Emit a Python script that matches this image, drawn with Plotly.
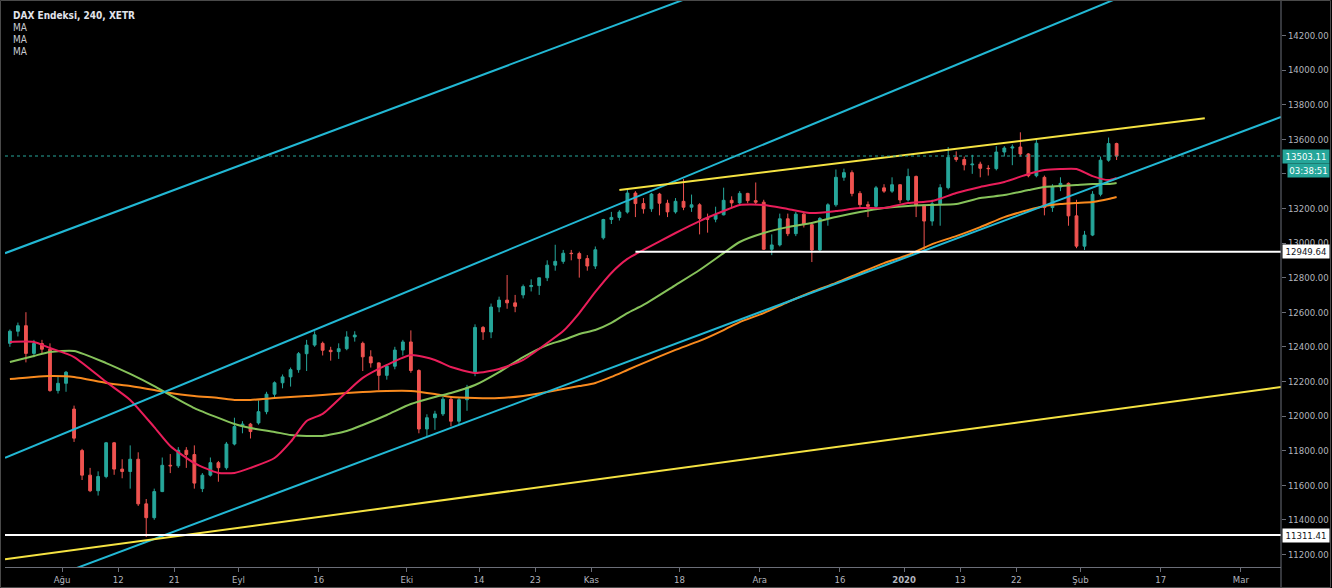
import pandas as pd
import plotly.graph_objects as go

# ---------------- calendar (XETRA trading days) ----------------
holidays = ["2019-12-24", "2019-12-25", "2019-12-26", "2019-12-31", "2020-01-01"]
trading_days = [d.strftime("%Y-%m-%d") for d in pd.bdate_range("2019-07-23", "2020-03-20")
                if d.strftime("%Y-%m-%d") not in holidays]
origin = trading_days.index("2019-08-01")


def pos(date):
    return trading_days.index(date) - origin


# ---------------- candles (one per trading day, from 2019-07-23) ----------------
opens = [
    12420, 12490, 12522, 12362,
    12419, 12386, 12147, 12189, 12040,
    11800, 11658, 11568, 11650, 11845,
    11693, 11679, 11750, 11492, 11412,
    11563, 11715, 11712, 11802, 11777,
    11580, 11658, 11730, 11701, 11838,
    11939, 11953, 11960, 12025, 12126,
    12192, 12226, 12268, 12360, 12410,
    12420, 12380, 12372, 12389, 12457,
    12420, 12342, 12307, 12235, 12288,
    12381, 12428, 12263, 11925, 11990,
    12012, 12097, 11970, 12094, 12250,
    12512, 12486, 12630, 12670, 12654,
    12700, 12748, 12754, 12799, 12872,
    12894, 12941, 12939, 12910, 12867,
    13030, 13136, 13148, 13179, 13289,
    13228, 13198, 13283, 13230, 13180,
    13241, 13207, 13221, 13142, 13138,
    13163, 13247, 13232, 13287, 13245,
    13236, 12964, 12989, 13140, 13054,
    13167, 13106, 12960, 13142, 13221,
    13380, 13407, 13287, 13222, 13212,
    13319, 13300,
    13337, 13249, 13385,
    13219, 13127, 13227, 13320, 13495,
    13483, 13452, 13456, 13432, 13430,
    13526, 13549, 13555, 13515, 13389,
    13380, 13205, 13324, 13345, 13157,
    12982, 13046, 13282, 13479, 13575,
]
highs = [
    12500, 12540, 12600, 12440,
    12440, 12420, 12230, 12260, 12060,
    11810, 11700, 11680, 11850, 11850,
    11750, 11830, 11790, 11520, 11580,
    11760, 11780, 11820, 11820, 11830,
    11670, 11760, 11740, 11850, 11990,
    11970, 11960, 12090, 12140, 12200,
    12240, 12280, 12370, 12440, 12490,
    12430, 12400, 12420, 12490, 12490,
    12430, 12380, 12310, 12300, 12400,
    12440, 12495, 12270, 12010, 12030,
    12110, 12110, 12110, 12180, 12530,
    12520, 12650, 12690, 12815, 12700,
    12760, 12790, 12800, 12900, 12990,
    12960, 12960, 12950, 12930, 12980,
    13140, 13180, 13190, 13310, 13300,
    13260, 13290, 13290, 13250, 13260,
    13370, 13280, 13230, 13170, 13210,
    13320, 13270, 13300, 13290, 13350,
    13250, 13050, 13170, 13170, 13180,
    13180, 13120, 13150, 13230, 13425,
    13430, 13420, 13300, 13240, 13330,
    13340, 13380,
    13340, 13430, 13390,
    13220, 13250, 13340, 13555, 13530,
    13500, 13510, 13470, 13450, 13560,
    13560, 13570, 13640, 13520, 13600,
    13390, 13340, 13380, 13350, 13250,
    13070, 13300, 13500, 13610, 13580,
]
lows = [
    12400, 12460, 12310, 12340,
    12360, 12140, 12130, 12140, 11850,
    11630, 11560, 11540, 11640, 11660,
    11640, 11580, 11480, 11300, 11400,
    11560, 11670, 11700, 11700, 11580,
    11560, 11650, 11620, 11690, 11830,
    11900, 11870, 11950, 12010, 12100,
    12160, 12170, 12250, 12260, 12400,
    12350, 12320, 12330, 12380, 12430,
    12260, 12280, 12150, 12210, 12270,
    12350, 12250, 11900, 11880, 11920,
    12000, 11940, 11950, 12030, 12230,
    12440, 12450, 12600, 12620, 12600,
    12680, 12720, 12700, 12780, 12840,
    12880, 12900, 12800, 12840, 12850,
    13020, 13110, 13130, 13170, 13150,
    13170, 13180, 13160, 13150, 13170,
    13190, 13180, 13050, 13060, 13120,
    13160, 13200, 13220, 13230, 13220,
    12960, 12930, 12980, 13040, 13040,
    13090, 12890, 12950, 13100, 13210,
    13360, 13270, 13200, 13150, 13200,
    13290, 13290,
    13230, 13240, 13150,
    12950, 13100, 13100, 13310, 13470,
    13420, 13400, 13380, 13390, 13420,
    13500, 13450, 13500, 13380, 13380,
    13160, 13180, 13300, 13100, 12970,
    12960, 13040, 13270, 13470, 13480,
]
closes = [
    12490, 12522, 12362, 12419,
    12386, 12147, 12189, 12253, 11872,
    11658, 11568, 11650, 11845, 11693,
    11679, 11750, 11492, 11412, 11563,
    11715, 11712, 11802, 11777, 11612,
    11658, 11730, 11701, 11838, 11939,
    11953, 11910, 12025, 12126, 12192,
    12226, 12268, 12360, 12410, 12469,
    12380, 12372, 12389, 12457, 12468,
    12342, 12307, 12235, 12288, 12381,
    12428, 12263, 11925, 11990, 12012,
    12097, 11970, 12094, 12164, 12512,
    12486, 12630, 12670, 12654, 12634,
    12748, 12754, 12799, 12872, 12894,
    12941, 12939, 12910, 12867, 12961,
    13136, 13148, 13179, 13289, 13228,
    13198, 13283, 13230, 13180, 13241,
    13207, 13221, 13142, 13138, 13163,
    13247, 13232, 13287, 13245, 13236,
    12964, 12989, 13140, 13054, 13167,
    13106, 12960, 13142, 13221, 13380,
    13407, 13287, 13222, 13212, 13319,
    13300, 13337,
    13249, 13385, 13219,
    13127, 13227, 13320, 13495, 13483,
    13452, 13456, 13432, 13430, 13526,
    13549, 13555, 13515, 13389, 13577,
    13205, 13324, 13345, 13157, 12982,
    13046, 13282, 13479, 13575, 13503.11,
]
candle_dates = trading_days[:len(closes)]

# ---------------- moving averages ----------------
ma_dates = [
    "2019-07-23", "2019-07-26", "2019-07-30", "2019-08-02", "2019-08-08", "2019-08-13",
    "2019-08-16", "2019-08-20", "2019-08-23", "2019-08-28", "2019-08-30", "2019-09-03",
    "2019-09-06", "2019-09-10", "2019-09-12", "2019-09-16", "2019-09-19", "2019-09-23",
    "2019-09-26", "2019-10-01", "2019-10-04", "2019-10-08", "2019-10-11", "2019-10-16",
    "2019-10-21", "2019-10-24", "2019-10-28", "2019-10-30", "2019-11-01", "2019-11-05",
    "2019-11-07", "2019-11-11", "2019-11-15", "2019-11-20", "2019-11-25", "2019-11-27",
    "2019-12-02", "2019-12-05", "2019-12-10", "2019-12-13", "2019-12-18", "2019-12-23",
    "2020-01-02", "2020-01-07", "2020-01-10", "2020-01-15", "2020-01-20", "2020-01-23",
    "2020-01-27", "2020-01-29", "2020-01-31", "2020-02-04", "2020-02-06", "2020-02-07",
]
ma_fast = [
    12428, 12428, 12393, 12341, 12197, 12093, 11936, 11827, 11728, 11671, 11671, 11700,
    11757, 11850, 11971, 12012, 12139, 12220, 12295, 12353, 12324, 12283, 12249, 12272,
    12324, 12422, 12491, 12595, 12717, 12827, 12908, 12960, 13058, 13127, 13185, 13220,
    13220, 13197, 13173, 13185, 13202, 13202, 13231, 13243, 13289, 13324, 13353, 13399,
    13422, 13428, 13428, 13387, 13364, 13376,
]
ma_mid = [
    12312, 12347, 12370, 12376, 12306, 12243, 12173, 12121, 12046, 11989, 11954, 11930,
    11908, 11890, 11885, 11885, 11913, 11948, 12006, 12069, 12110, 12133, 12179, 12254,
    12341, 12410, 12439, 12474, 12497, 12538, 12595, 12642, 12757, 12844, 12942, 13006,
    13058, 13092, 13116, 13150, 13179, 13202, 13214, 13220, 13225, 13260, 13277, 13306,
    13324, 13329, 13335, 13341, 13341, 13347,
]
ma_slow = [
    12214, 12226, 12231, 12226, 12191, 12173, 12150, 12133, 12116, 12104, 12093, 12093,
    12104, 12110, 12116, 12121, 12133, 12139, 12145, 12145, 12127, 12110, 12104, 12104,
    12116, 12139, 12156, 12173, 12191, 12226, 12266, 12306, 12382, 12434, 12497, 12543,
    12595, 12659, 12717, 12769, 12827, 12884, 12931, 12994, 13040, 13092, 13150, 13191,
    13214, 13225, 13231, 13237, 13254, 13266,
]

# ---------------- drawings: (date, price) anchor pairs ----------------
channel_top = [("2019-08-01", 13073), ("2019-11-01", 14216)]
channel_mid = [("2019-08-01", 11904), ("2019-11-01", 13168)]
channel_low = [("2019-08-01", 11098), ("2020-01-31", 13286)]
yellow_long = [("2019-08-01", 11219), ("2020-01-31", 12008)]
yellow_top = [("2019-11-06", 13306), ("2020-02-24", 13721)]
support_hi = ("2019-11-08", 12949.64)
support_lo = 11311.41
last_price = 13503.11
countdown = "03:38:51"

tick_dates = ["2019-08-01", "2019-08-12", "2019-08-21", "2019-09-02", "2019-09-16", "2019-10-01",
              "2019-10-14", "2019-10-23", "2019-11-01", "2019-11-18", "2019-12-02", "2019-12-16",
              "2020-01-02", "2020-01-13", "2020-01-22", "2020-02-03", "2020-02-17", "2020-03-02"]
tick_text = ["Ağu", "12", "21", "Eyl", "16", "Eki", "14", "23", "Kas", "18", "Ara", "16",
             "<b>2020</b>", "13", "22", "Şub", "17", "Mar"]

# ---------------- styling ----------------
TEAL = "#26a69a"
RED = "#ef5350"
CYAN = "#22b8d4"
YELLOW = "#f5e342"
PINK = "#e91e5a"
GREEN = "#86c25a"
ORANGE = "#f98a1e"
AXIS = "#6b6e78"
TXT = "#b2b5be"
FONT = "DejaVu Sans Condensed, Liberation Sans Narrow, Liberation Sans, sans-serif"

X0, X1 = -7.61, 151.5
Y0, Y1 = 11127, 14405

fig = go.Figure()

cx = [pos(d) for d in candle_dates]
fig.add_trace(go.Candlestick(
    x=cx, open=opens, high=highs, low=lows, close=closes,
    increasing=dict(line=dict(color=TEAL, width=1), fillcolor=TEAL),
    decreasing=dict(line=dict(color=RED, width=1), fillcolor=RED),
    whiskerwidth=0, showlegend=False, hoverinfo="skip"))

mx = [pos(d) for d in ma_dates]
for vals, col in [(ma_slow, ORANGE), (ma_mid, GREEN), (ma_fast, PINK)]:
    fig.add_trace(go.Scatter(x=mx, y=vals, mode="lines",
                             line=dict(color=col, width=2, shape="spline", smoothing=0.6),
                             showlegend=False, hoverinfo="skip"))


def extended(anchors):
    (d1, v1), (d2, v2) = anchors
    x1, x2 = pos(d1), pos(d2)
    k = (v2 - v1) / (x2 - x1)
    return [X0, X1], [v1 + k * (X0 - x1), v1 + k * (X1 - x1)]


for anchors, col in [(channel_top, CYAN), (channel_mid, CYAN), (channel_low, CYAN), (yellow_long, YELLOW)]:
    xs, ys = extended(anchors)
    fig.add_trace(go.Scatter(x=xs, y=ys, mode="lines", line=dict(color=col, width=2),
                             showlegend=False, hoverinfo="skip"))

fig.add_trace(go.Scatter(x=[pos(yellow_top[0][0]), pos(yellow_top[1][0])],
                         y=[yellow_top[0][1], yellow_top[1][1]], mode="lines",
                         line=dict(color=YELLOW, width=2), showlegend=False, hoverinfo="skip"))

shapes = [
    dict(type="line", xref="x", yref="y", x0=pos(support_hi[0]), x1=X1, y0=support_hi[1], y1=support_hi[1],
         line=dict(color="white", width=2)),
    dict(type="line", xref="paper", yref="y", x0=0, x1=1, y0=support_lo, y1=support_lo,
         line=dict(color="white", width=2)),
    dict(type="line", xref="paper", yref="y", x0=0, x1=1, y0=last_price, y1=last_price,
         line=dict(color=TEAL, width=1, dash="dot")),
    dict(type="line", xref="paper", yref="paper", x0=1, x1=1, y0=-21 / 567, y1=1,
         line=dict(color=AXIS, width=1)),
    dict(type="rect", xref="paper", yref="paper", x0=-4.5 / 1276, x1=1325.5 / 1276,
         y0=-20.5 / 567, y1=566.5 / 567, line=dict(color="#4a4a4a", width=1)),
]

annotations = [
    dict(xref="paper", yref="paper", x=0, y=1, xanchor="left", yanchor="middle", xshift=6, yshift=-15,
         text="<b>DAX Endeksi, 240, XETR</b>", showarrow=False,
         font=dict(color="#e0e3eb", size=10, family=FONT)),
]
for i in range(3):
    annotations.append(dict(xref="paper", yref="paper", x=0, y=1, xanchor="left", yanchor="middle",
                            xshift=6, yshift=-27 - 12 * i, text="MA", showarrow=False,
                            font=dict(color="#c8cad0", size=10, family=FONT)))

for price, txt, bg, fg, shift in [
    (last_price, f"{last_price:.2f}", TEAL, "white", 0),
    (last_price - 14 * (Y1 - Y0) / 567, countdown, TEAL, "white", 5),
    (support_hi[1], f"{support_hi[1]:.2f}", "white", "#131722", 0),
    (support_lo, f"{support_lo:.2f}", "white", "#131722", 0),
]:
    annotations.append(dict(xref="paper", yref="y", x=1, y=price, xanchor="left", yanchor="middle",
                            xshift=1 + shift, text=txt, showarrow=False, bgcolor=bg,
                            width=44 - shift, height=11, borderpad=1,
                            font=dict(color=fg, size=9.5, family=FONT)))

fig.update_layout(
    width=1332, height=588, autosize=False,
    margin=dict(l=5, r=51, t=0, b=21, pad=0),
    paper_bgcolor="black", plot_bgcolor="black",
    boxgap=0.5,
    shapes=shapes, annotations=annotations,
    xaxis=dict(range=[X0, X1], showgrid=False, zeroline=False, showline=True, linecolor=AXIS,
               tickvals=[pos(d) - 0.5 for d in tick_dates], ticktext=tick_text,
               ticks="outside", ticklen=4, tickcolor=AXIS,
               tickfont=dict(color=TXT, size=9.5, family=FONT),
               rangeslider=dict(visible=False), fixedrange=True),
    yaxis=dict(range=[Y0, Y1], side="right", showgrid=False, zeroline=False, showline=False,
               tick0=0, dtick=200, tickformat=".2f", ticks="outside", ticklen=4, tickcolor=AXIS,
               tickfont=dict(color=TXT, size=9.5, family=FONT), fixedrange=True),
    font=dict(family=FONT),
)

fig.write_html("out.html")
